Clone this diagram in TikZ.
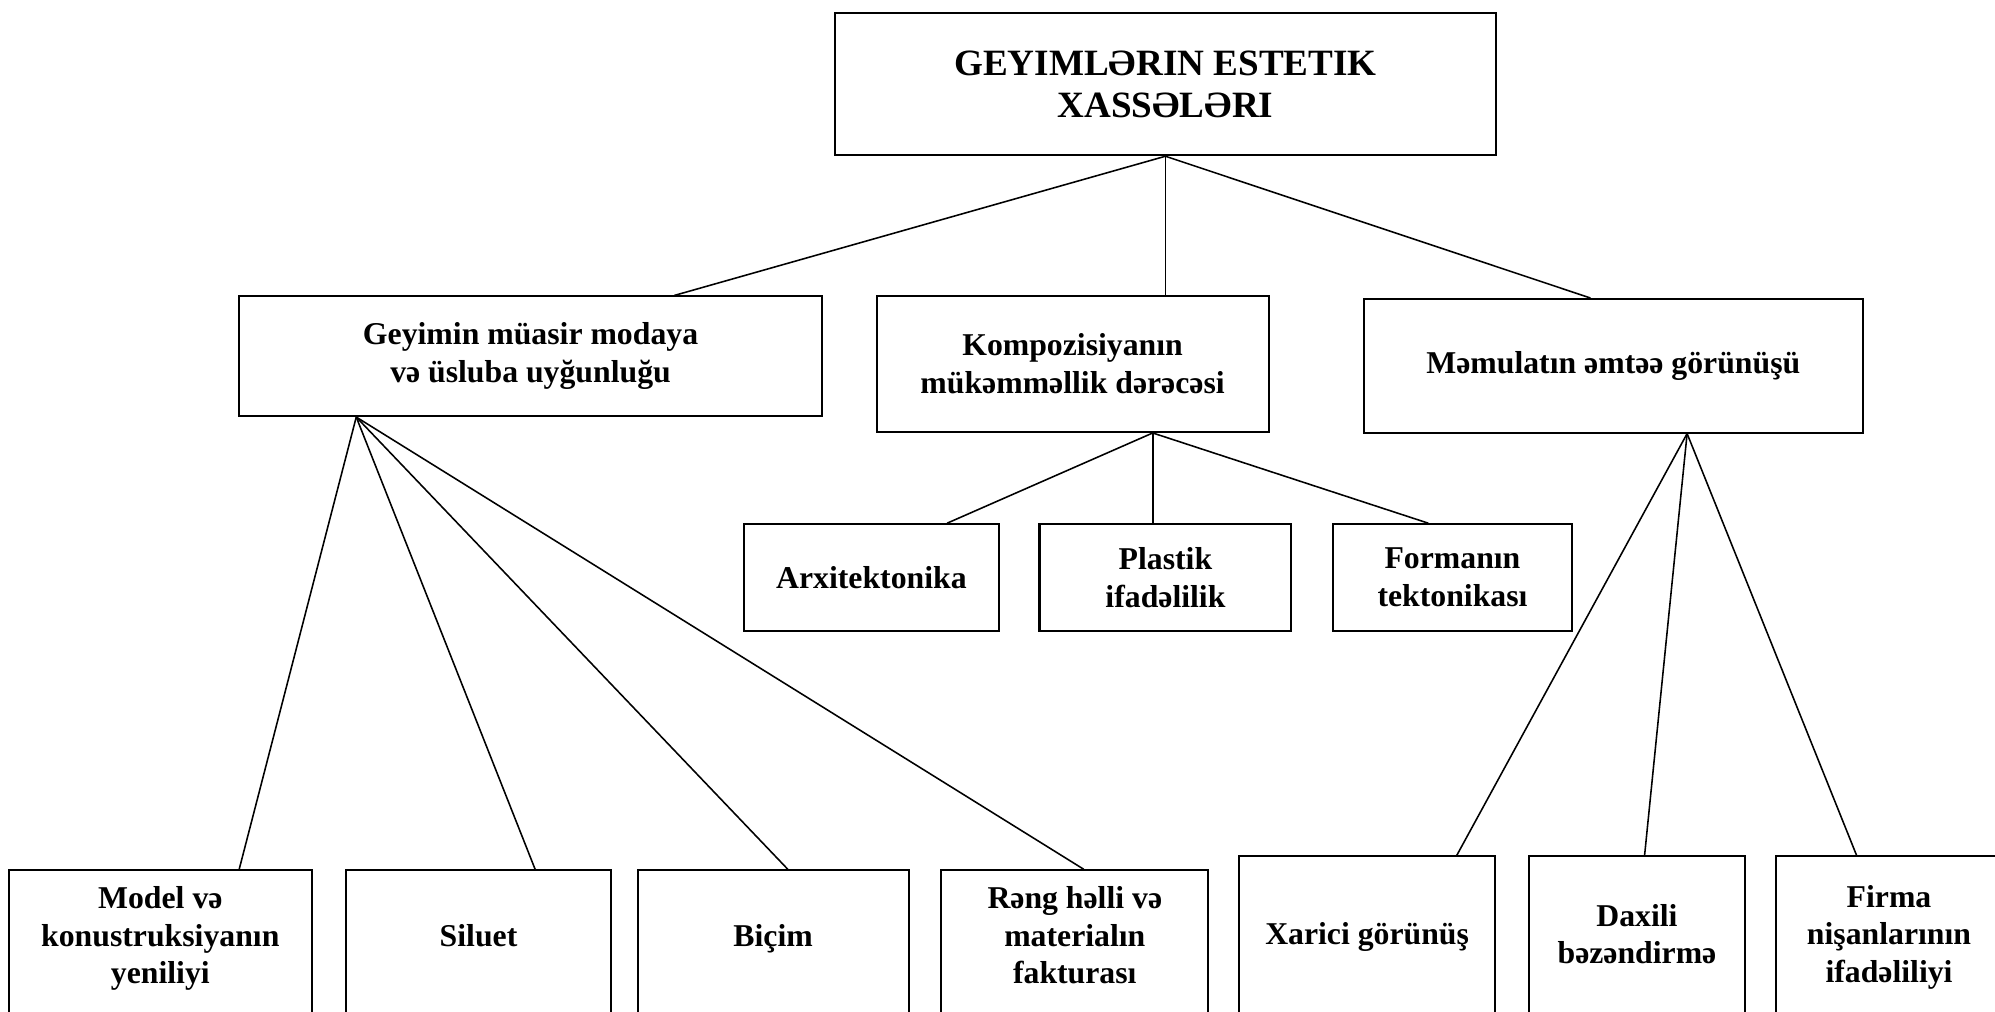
\documentclass[tikz,border=0pt]{standalone}
\usepackage{fontspec}
\setmainfont{Liberation Serif}
\usetikzlibrary{positioning,calc}

\begin{document}
\begin{tikzpicture}[x=0.2mm, y=-0.2mm,
		box/.style={draw, line width=0.9pt, inner sep=2pt, align=center,
			font=\bfseries\fontsize{14.2}{16.9}\selectfont},
		leaf/.style={box, minimum height=32mm, text depth=11.6mm},
		link/.style={line width=0.7pt}]
		\useasboundingbox (0,0) rectangle (1568,795);

		\node[box, minimum width=104mm, minimum height=22.4mm,
			font=\bfseries\fontsize{16.6}{18.8}\selectfont] (top) at (916,66)
			{GEYIMLƏRIN ESTETIK\\XASSƏLƏRI};

		\node[box, minimum width=91.6mm, minimum height=18.8mm] (a) at (417,280)
			{Geyimin müasir modaya\\və üsluba uyğunluğu};
		\node[box, minimum width=61.6mm, minimum height=21.4mm] (b) at (843,286)
			{Kompozisiyanın\\mükəmməllik dərəcəsi};
		\node[box, minimum width=78.4mm, minimum height=21mm] (c) at (1268,287.5)
			{Məmulatın əmtəə görünüşü};

		\node[box, minimum width=39.6mm, minimum height=16.8mm] (pla) at (916,454)
			{Plastik\\ifadəlilik};
		\node[box, minimum width=40.2mm, minimum height=16.8mm, left=6mm of pla] (arx)
			{Arxitektonika};
		\node[box, minimum width=37.6mm, minimum height=16.8mm, right=6.2mm of pla] (for)
			{Formanın\\tektonikası};

		\node[leaf, minimum width=47.6mm] (l1) at (126,764)
			{Model və\\konustruksiyanın\\yeniliyi};
		\node[leaf, minimum width=41.8mm, right=5mm of l1] (l2) {Siluet};
		\node[leaf, minimum width=42.6mm, right=3.8mm of l2] (l3) {Biçim};
		\node[leaf, minimum width=42mm, right=4.8mm of l3] (l4)
			{Rəng həlli və\\materialın\\fakturası};

		\node[leaf, text depth=7.6mm, minimum width=40.2mm] (l5) at (1074.5,753) {Xarici görünüş};
		\node[leaf, text depth=7.6mm, minimum width=34mm, right=5mm of l5] (l6) {Daxili\\bəzəndirmə};
		\node[leaf, text depth=7.6mm, minimum width=35.4mm, right=4.6mm of l6] (l7)
			{Firma\\nişanlarının\\ifadəliliyi};

		\path[link] (top.south) edge ($(a.north)+(113,0)$);
		\path[link] (top.south) edge ($(b.north)+(73,0)$);
		\path[link] (top.south) edge ($(c.north)+(-18,0)$);

		\path[link] ($(b.south)+(63,0)$) edge ($(arx.north)+(59.5,0)$);
		\path[link] ($(b.south)+(63,0)$) edge ($(pla.north)+(-10,0)$);
		\path[link] ($(b.south)+(63,0)$) edge ($(for.north)+(-19,0)$);

		\path[link] ($(a.south)+(-137,0)$) edge ($(l1.north)+(62,0)$);
		\path[link] ($(a.south)+(-137,0)$) edge ($(l2.north)+(44.5,0)$);
		\path[link] ($(a.south)+(-137,0)$) edge ($(l3.north)+(11.5,0)$);
		\path[link] ($(a.south)+(-137,0)$) edge ($(l4.north)+(7,0)$);

		\path[link] ($(c.south)+(58,0)$) edge ($(l5.north)+(70.5,0)$);
		\path[link] ($(c.south)+(58,0)$) edge ($(l6.north)+(6,0)$);
		\path[link] ($(c.south)+(58,0)$) edge ($(l7.north)+(-25.5,0)$);
	\end{tikzpicture}
\end{document}
